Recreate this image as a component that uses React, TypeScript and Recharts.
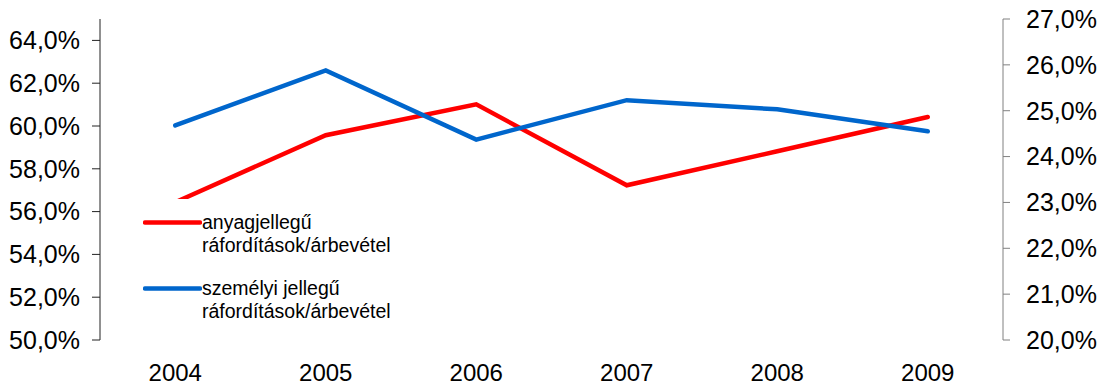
import { CartesianGrid, Legend, Line, LineChart, XAxis, YAxis } from "recharts";

const years = ["2004", "2005", "2006", "2007", "2008", "2009"];
// anyagjellegű ráfordítások / árbevétel (bal tengely, %)
const materialRatio = [56.44, 59.57, 61.01, 57.23, 58.82, 60.42];
// személyi jellegű ráfordítások / árbevétel (jobb tengely, %)
const personnelRatio = [24.68, 25.88, 24.37, 25.23, 25.03, 24.55];

const leftTicks = [50, 52, 54, 56, 58, 60, 62, 64];
const rightTicks = [20, 21, 22, 23, 24, 25, 26, 27];
const edgeTicks = [0, 1, 2, 3, 4, 5, 6];

const seriesNames = {
  material: "anyagjellegű ráfordítások/árbevétel",
  personnel: "személyi jellegű ráfordítások/árbevétel",
};

const data = years.map((year, i) => ({
  year,
  material: materialRatio[i],
  personnel: personnelRatio[i],
}));

const FONT = '"Liberation Sans", Arial, sans-serif';

function fmtPct(v: number) {
  return `${Number(v).toFixed(1).replace(".", ",")}%`;
}

function LegendBox({ payload }: { payload?: Array<{ value: string; color: string }> }) {
  return (
    <div style={{ background: "#fff", padding: "12px 0 6px 5px", fontFamily: FONT, fontSize: 19.5, color: "#000" }}>
      {(payload ?? []).map((p, i) => (
        <div key={p.value} style={{ display: "flex", alignItems: "flex-start", marginTop: i === 0 ? 0 : 20 }}>
          <svg width={59} height={23} style={{ flex: "none" }}>
            <line x1={2} y1={11.5} x2={57} y2={11.5} stroke={p.color} strokeWidth={4.5} strokeLinecap="round" />
          </svg>
          <div style={{ width: 210, lineHeight: "23px" }}>{p.value}</div>
        </div>
      ))}
    </div>
  );
}

export default function App() {
  return (
    <div style={{ position: "fixed", top: 0, left: 0, background: "#fff" }}>
      <LineChart width={1098} height={387} data={data} margin={{ top: 19, right: 0, bottom: 0, left: 0 }}>
        <CartesianGrid stroke="none" />
        {/* tick marks sit between the year categories */}
        <XAxis
          xAxisId="edge"
          type="number"
          domain={[0, 6]}
          ticks={edgeTicks}
          tick={false}
          tickSize={7}
          height={0}
          stroke="#555"
          allowDataOverflow
        />
        <XAxis
          dataKey="year"
          scale="band"
          axisLine={false}
          tickLine={false}
          tickSize={0}
          tickMargin={24}
          height={47}
          tick={{ fill: "#000", fontSize: 24, fontFamily: FONT }}
        />
        <YAxis
          yAxisId="left"
          domain={[50, 65]}
          ticks={leftTicks}
          tickFormatter={fmtPct}
          width={100}
          tickSize={8}
          tickMargin={12}
          stroke="#222"
          tick={{ fill: "#000", fontSize: 25, fontFamily: FONT }}
          allowDataOverflow
        />
        <YAxis
          yAxisId="right"
          orientation="right"
          domain={[20, 27]}
          ticks={rightTicks}
          tickFormatter={fmtPct}
          width={95}
          tickSize={7}
          tickMargin={16}
          stroke="#808080"
          tick={{ fill: "#000", fontSize: 25, fontFamily: FONT }}
          allowDataOverflow
        />
        <Line
          yAxisId="left"
          dataKey="material"
          name={seriesNames.material}
          stroke="#ff0000"
          strokeWidth={4.5}
          strokeLinecap="round"
          dot={false}
          activeDot={false}
          isAnimationActive={false}
        />
        <Line
          yAxisId="right"
          dataKey="personnel"
          name={seriesNames.personnel}
          stroke="#0066cc"
          strokeWidth={4.5}
          strokeLinecap="round"
          dot={false}
          activeDot={false}
          isAnimationActive={false}
        />
        <Legend
          layout="vertical"
          align="center"
          verticalAlign="middle"
          content={<LegendBox />}
          wrapperStyle={{ top: 199, left: 138, width: 280 }}
        />
      </LineChart>
    </div>
  );
}
